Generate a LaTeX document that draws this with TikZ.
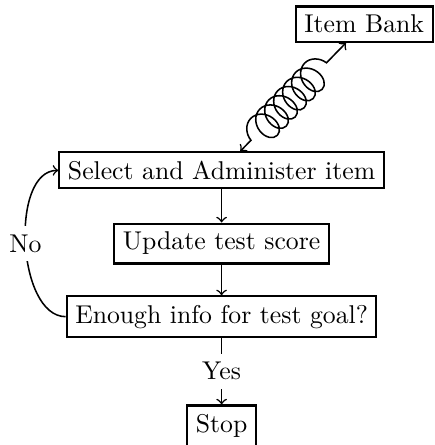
\documentclass[tikz,border=0pt]{standalone}
\usetikzlibrary{arrows,positioning,decorations.pathmorphing}
\tikzset{arr/.style={draw, ->, semithick}}
\tikzset{box/.style={draw, thick, rectangle}}
\begin{document}
\begin{tikzpicture}
        \useasboundingbox (0,0) rectangle (5.935,-6.085);
        \node[box] (bank) at (4.98,-0.33) {Item Bank};
        \node[box] (select) at (3.03,-2.33) {Select and Administer item};
        \node[box] (update) at (3.03,-3.33) {Update test score};
        \node[box] (enough) at (3.03,-4.33) {Enough info for test goal?};
        \node[box] (stop) at (3.03,-5.82) {Stop};
        \draw[arr] (select) -- (update);
        \draw[arr] (update) -- (enough);
        \draw[arr] (enough) -- node[fill=white] (yes) {Yes} (stop);
        \draw[arr] (enough.west) to[out=180, in=180, looseness=0.85]
            node[fill=white] (no) {No} (select.west);
        \draw[semithick, <->, decorate,
            decoration={coil, amplitude=6pt, segment length=5pt, aspect=0.8, pre length=6pt, post length=7pt}]
            (select) -- (bank);
    \end{tikzpicture}
\end{document}
